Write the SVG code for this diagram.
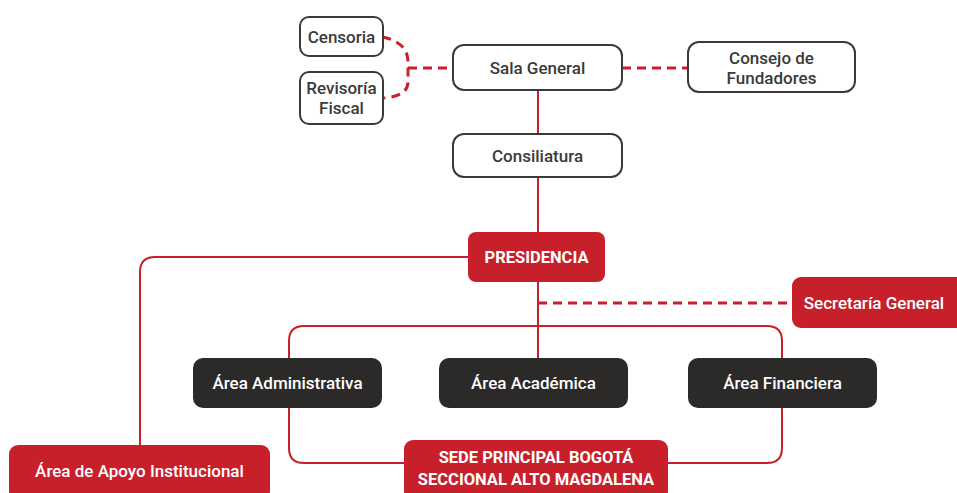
<svg xmlns="http://www.w3.org/2000/svg" width="957" height="493" viewBox="0 0 957 493">
  <defs>
    <style>
      .outline rect { fill: #ffffff; stroke: #3a3a3a; stroke-width: 2; }
      .red rect { fill: #c8202a; }
      .dark rect { fill: #2b2a29; }
      text { font-family: "Roboto", "Liberation Sans", sans-serif; font-size: 17px; font-weight: 500; text-anchor: middle; dominant-baseline: central; }
      .outline text { fill: #3a3a3a; }
      .red text, .dark text { fill: #ffffff; }
      .red text.caps { font-weight: bold; font-size: 16.5px; }
      .link { fill: none; stroke: #c8202a; stroke-width: 2; }
      .dash { fill: none; stroke: #c8202a; stroke-width: 3; stroke-dasharray: 9 6; }
    </style>
  </defs>

  <rect width="957" height="493" fill="#ffffff"/>

  <!-- connectors -->
  <g id="connectors">
    <!-- Sala General to Consiliatura to Presidencia and down to Área Académica -->
    <path class="link" d="M538 90 V358"/>
    <!-- Presidencia to Área de Apoyo Institucional -->
    <path class="link" d="M468 257 H155 Q140 257 140 272 V446"/>
    <!-- loop joining the three areas and the sede -->
    <path class="link" d="M405 463 H304 Q289 463 289 448 V341 Q289 326 304 326 H767 Q782 326 782 341 V448 Q782 463 767 463 H668"/>
    <!-- advisory links -->
    <path class="dash" d="M382 37 Q408 42 408 62 V82 Q408 96 384 98"/>
    <path class="dash" d="M408 68 H453"/>
    <path class="dash" d="M622 68 H688"/>
    <path class="dash" d="M538 303 H792"/>
  </g>

  <g id="censoria" class="outline">
    <rect x="300" y="17" width="83" height="39" rx="9"/>
    <text x="341.5" y="36.5">Censoria</text>
  </g>
  <g id="revisoria-fiscal" class="outline">
    <rect x="300" y="72" width="83" height="52" rx="9"/>
    <text x="341.5" y="88">Revisoría</text>
    <text x="341.5" y="108">Fiscal</text>
  </g>
  <g id="sala-general" class="outline">
    <rect x="453" y="45" width="169" height="45" rx="11"/>
    <text x="537.5" y="68">Sala General</text>
  </g>
  <g id="consejo-fundadores" class="outline">
    <rect x="688" y="42" width="167" height="50" rx="11"/>
    <text x="771.5" y="58">Consejo de</text>
    <text x="771.5" y="78">Fundadores</text>
  </g>
  <g id="consiliatura" class="outline">
    <rect x="453" y="134" width="169" height="43" rx="11"/>
    <text x="537.5" y="156">Consiliatura</text>
  </g>
  <g id="presidencia" class="red">
    <rect x="468" y="232" width="137" height="50" rx="8"/>
    <text class="caps" x="536.5" y="257">PRESIDENCIA</text>
  </g>
  <g id="secretaria-general" class="red">
    <rect x="792" y="277" width="175" height="51" rx="9"/>
    <text x="874" y="302.5">Secretaría General</text>
  </g>
  <g id="area-administrativa" class="dark">
    <rect x="193" y="358" width="189" height="50" rx="10"/>
    <text x="287.5" y="383">Área Administrativa</text>
  </g>
  <g id="area-academica" class="dark">
    <rect x="439" y="358" width="189" height="50" rx="10"/>
    <text x="533.5" y="383">Área Académica</text>
  </g>
  <g id="area-financiera" class="dark">
    <rect x="688" y="358" width="189" height="50" rx="10"/>
    <text x="782.5" y="383">Área Financiera</text>
  </g>
  <g id="sede" class="red">
    <rect x="404" y="440" width="264" height="60" rx="9"/>
    <text class="caps" x="536" y="457">SEDE PRINCIPAL BOGOTÁ</text>
    <text class="caps" x="536" y="479">SECCIONAL ALTO MAGDALENA</text>
  </g>
  <g id="area-apoyo" class="red">
    <rect x="9" y="445" width="261" height="55" rx="9"/>
    <text x="139.5" y="471">Área de Apoyo Institucional</text>
  </g>
</svg>
